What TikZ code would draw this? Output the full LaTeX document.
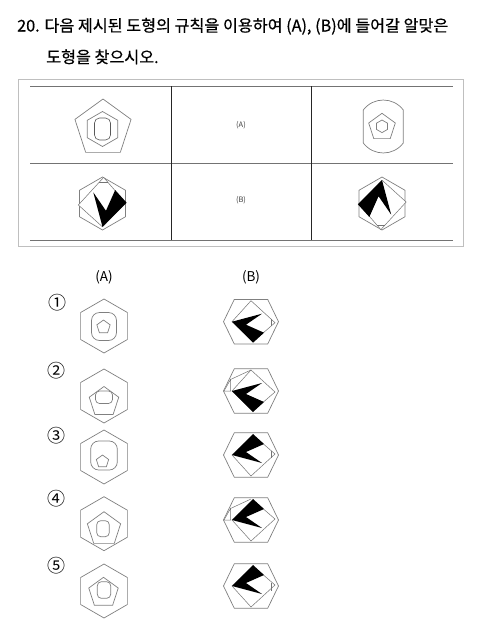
\documentclass[tikz,border=0pt]{standalone}
\usepackage{fontspec}
\setmainfont{Noto Sans CJK KR}
\newfontfamily\headfont{Noto Sans CJK KR}[FakeBold=0.6]
\usetikzlibrary{positioning}

% one folded paper with the black zigzag, drawn at the origin of a scope
\newcommand{\papfig}[2]{%
  \begin{scope}[#1]
    \draw[paperline, fill=white] (-19,0) -- (0,-21) -- (24,1) -- (2,20) -- cycle;
    \fill[black] (-19,0) -- (11,-8) -- (-5,3) -- (13,11) -- (2,21) -- (-8,11) -- cycle;
    #2
  \end{scope}}
\newcommand{\hexup}[2]{\draw[shapeline, shift={#1}] (-90:#2) foreach \a in {-30,30,90,150,210} {-- (\a:#2)} -- cycle;}
\newcommand{\hexflat}[1]{\draw[shapeline, shift={#1}] (-27.5,0) -- (-16.7,-22.3) -- (16.7,-22.3) -- (27.5,0) -- (16.7,22.3) -- (-16.7,22.3) -- cycle;}
\newcommand{\pent}[2]{\draw[shapeline, shift={#1}] (-90:#2) foreach \a in {-18,54,126,198} {-- (\a:#2)} -- cycle;}

\begin{document}
\begin{tikzpicture}[
    x=1pt, y=-1pt,
    shapeline/.style={draw=black!50, line width=0.7pt},
    paperline/.style={draw=black!55, line width=0.5pt},
    inkline/.style={draw=black!65, line width=0.6pt},
    rowrule/.style={draw=black!55, line width=0.9pt},
    colrule/.style={draw=black!85, line width=0.8pt},
    titletext/.style={anchor=base west, inner sep=0, font=\headfont\fontsize{16.2}{20}\selectfont},
    celltext/.style={inner sep=0, text=black!75, font=\fontsize{7.5}{9}\selectfont},
    headtext/.style={inner sep=0, font=\fontsize{13.5}{16}\selectfont},
    numtext/.style={inner sep=0, font=\fontsize{18}{20}\selectfont}
]
\useasboundingbox (0,0) rectangle (480,630);
\fill[white] (0,0) rectangle (480,630);

% question
\node[titletext] (title1) at (17,31.5) {20. 다음 제시된 도형의 규칙을 이용하여 (A), (B)에 들어갈 알맞은};
\node[titletext] (title2) at (46,63) {도형을 찾으시오.};

% table
\draw[black!25, line width=1.2pt] (18.5,79.5) rectangle (463.5,246.5);
\foreach \y in {86,163,240}
  \draw[rowrule] (30,\y) -- (453,\y);
\foreach \x in {171,311}
  \draw[colrule] (\x,86) -- (\x,240);
\node[celltext] (cellA) at (241,125) {(A)};
\node[celltext] (cellB) at (241,200) {(B)};

% top row
\pent{(103,128.5)}{29.5}
\hexup{(102.5,129)}{17.5}
\draw[inkline, rounded corners=5] (94.5,118) rectangle (110.5,140);
\draw[shapeline] (363.3,143) -- (363.3,110) .. controls (373.3,96.7) and (393.3,96.7) .. (403.3,110)
  -- (403.3,143) .. controls (393.3,156.3) and (373.3,156.3) .. (363.3,143);
\pent{(382,127.3)}{14}
\hexup{(382,126.3)}{6.3}

% bottom row
\hexup{(102.5,203.5)}{26.5}
\papfig{shift={(102.5,205)}, rotate=90, scale=1.15}{\draw[paperline] (20,-2.7) -- (20,4.5);}
\hexup{(382,203.5)}{26.5}
\papfig{shift={(382,202)}, rotate=-90, scale=1.15}{\draw[paperline] (20,-2.7) -- (20,4.5);}

% choices
\node[headtext] (hdrA) at (104,277) {(A)};
\node[headtext] (hdrB) at (251,277) {(B)};
\node[numtext] (num1) at (57,302.5) {①};
\node[numtext] (num2) at (56,371) {②};
\node[numtext] (num3) at (56,435.5) {③};
\node[numtext] (num4) at (56,499) {④};
\node[numtext] (num5) at (56,566) {⑤};

% choice 1
\hexup{(104,326)}{27}
\draw[shapeline, rounded corners=8] (91.5,312.5) rectangle (116.5,340.5);
\pent{(103.5,327)}{7}
\hexflat{(251,321.7)}
\papfig{shift={(251,321.7)}}{\draw[paperline] (20,-2.7) -- (20,4.5);}

% choice 2
\hexup{(104,396)}{27}
\pent{(104,402)}{15.5}
\draw[shapeline, rounded corners=4] (95.5,391) rectangle (112.5,403.5);
\hexflat{(251,391)}
\papfig{shift={(251,391)}}{\draw[paperline, fill=white] (-20.5,-11.5) -- (-20.5,0) -- (-27,0) -- cycle;
  \draw[paperline] (-20.5,-11.5) -- (0,-21);}

% choice 3
\hexup{(104,457)}{27}
\draw[shapeline, rounded corners=8] (90.7,441) rectangle (117.3,470);
\pent{(102.5,461.5)}{6.5}
\hexflat{(251,455)}
\papfig{shift={(251,455)}, yscale=-1}{\draw[paperline] (20,-2.7) -- (20,4.5);}

% choice 4
\hexup{(104,523.7)}{27}
\pent{(104,529.2)}{17.5}
\draw[shapeline, rounded corners=4] (96.7,520.7) rectangle (109.3,536.7);
\hexflat{(251,520)}
\papfig{shift={(251,520)}, yscale=-1}{\draw[paperline, fill=white] (-20.5,11.5) -- (-20.5,0) -- (-27,0) -- cycle;
  \draw[paperline] (-20.5,11.5) -- (0,21);}

% choice 5
\hexup{(104,591)}{27}
\pent{(103.5,592.8)}{15.5}
\draw[shapeline, rounded corners=4] (97.3,581.7) rectangle (110.7,598.3);
\hexflat{(251,586)}
\papfig{shift={(251,586)}, yscale=-1}{\draw[paperline] (20,-4.5) -- (20,2.7);}
\end{tikzpicture}
\end{document}
